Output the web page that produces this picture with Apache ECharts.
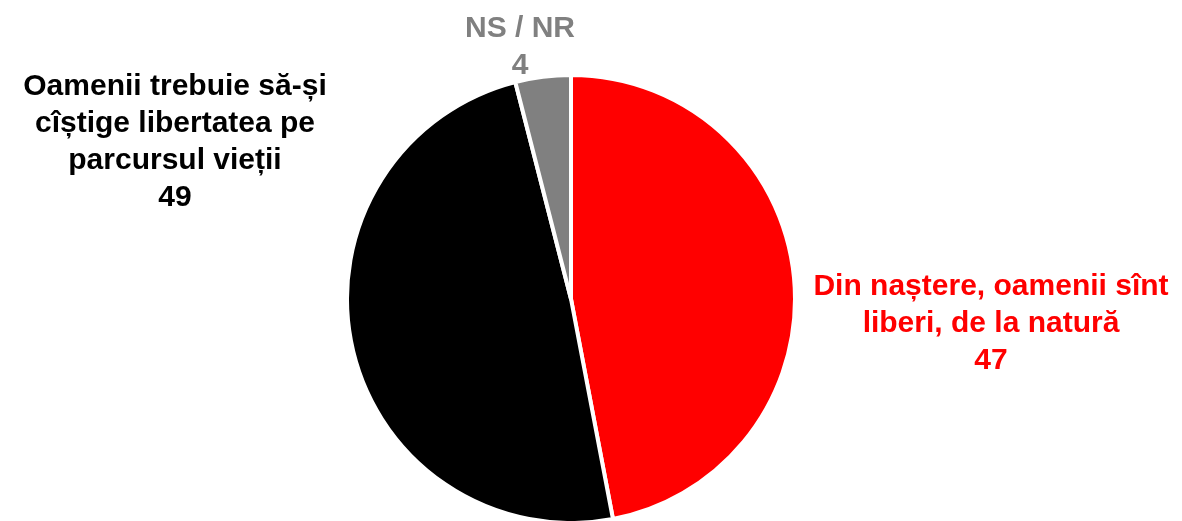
<!DOCTYPE html>
<html>
<head>
<meta charset="utf-8">
<script src="https://cdn.jsdelivr.net/npm/echarts@6/dist/echarts.min.js"></script>
<style>
  html, body { margin: 0; padding: 0; background: #fff; }
  #chart { width: 1182px; height: 521px; }
</style>
</head>
<body>
<div id="chart"></div>
<script>
const categories = [
  "Din naștere, oamenii sînt\nliberi, de la natură",
  "Oamenii trebuie să-și\ncîștige libertatea pe\nparcursul vieții",
  "NS / NR"
];
const values = [47, 49, 4];
const colors = ["#ff0000", "#000000", "#808080"];
// where each label block is centred (x, y)
const labelSpots = [[991, 324], [175, 142], [520, 47]];

const chart = echarts.init(document.getElementById("chart"));
const option = {
  animation: false,
  series: [
    {
      type: "pie",
      center: [571, 299],
      radius: 224,
      startAngle: 90,
      clockwise: true,
      itemStyle: {
        borderColor: "#fff",
        borderWidth: 4,
      },
      label: {
        show: true,
        position: "inside",
        overflow: "none",
        formatter: (p) => p.name + "\n" + p.value,
        fontFamily: "Liberation Sans, Arial, sans-serif",
        fontWeight: "bold",
        fontSize: 30,
        lineHeight: 37,
        align: "center",
      },
      labelLine: { show: false },
      labelLayout: (params) => {
        const spot = labelSpots[params.dataIndex];
        return {
          x: spot[0],
          y: spot[1],
          align: "center",
          verticalAlign: "middle",
        };
      },
      data: categories.map((name, i) => ({
        name: name,
        value: values[i],
        itemStyle: { color: colors[i] },
        label: { color: colors[i] },
      })),
    },
  ],
};
chart.setOption(option);
</script>
</body>
</html>
